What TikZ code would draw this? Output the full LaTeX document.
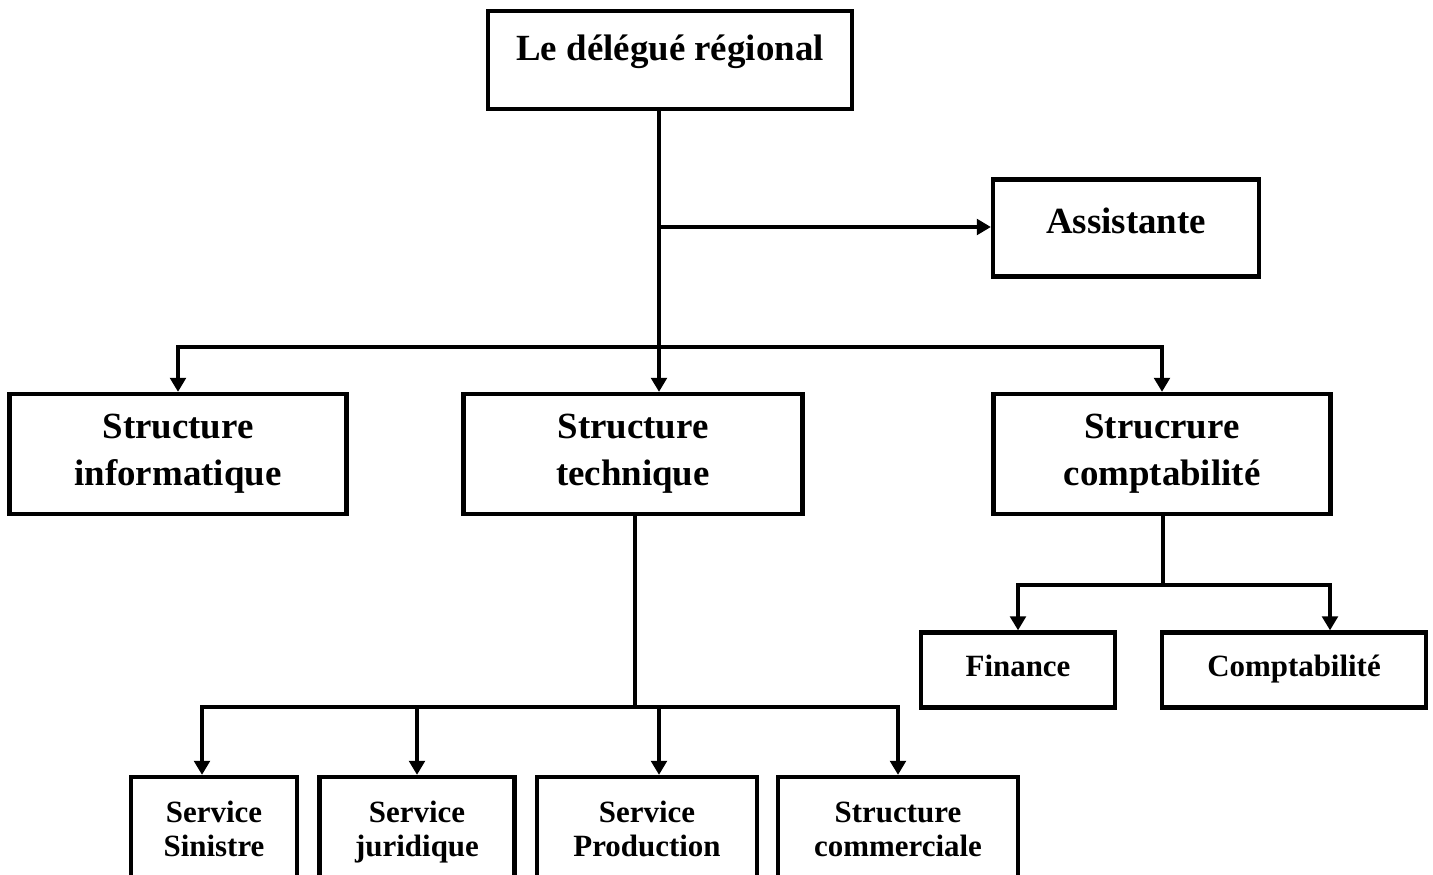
\documentclass[tikz,border=0pt]{standalone}
\usepackage{fontspec}
\setmainfont{Liberation Serif}
\usetikzlibrary{arrows.meta}

\tikzstyle{unit} = [rectangle, draw=black, line width=2.5pt, align=center, inner sep=0pt, font=\bfseries\fontsize{21}{26.6}\selectfont]
\tikzstyle{service} = [unit, font=\bfseries\fontsize{17.6}{19.8}\selectfont]
\tikzstyle{bureau} = [service, text height=31.8pt, text depth=0pt]
\tikzstyle{link} = [line width=1.8pt]
\tikzstyle{arrow} = [link, -{Triangle[length=8pt,width=9pt]}]

\begin{document}
\begin{tikzpicture}[x=0.02cm, y=-0.02cm]
\useasboundingbox (0,0) rectangle (1433,875);
\clip (0,0) rectangle (1433,875);

% Direction
\node (del) [unit, minimum width=7.28cm, minimum height=1.96cm, text height=14.7pt, text depth=13.6pt] at (670,60) {Le délégué régional};
\node (ast) [unit, minimum width=5.32cm, minimum height=1.94cm, text height=14.2pt, text depth=7.4pt] at (1126,228) {Assistante};

% Structures
\node (inf) [unit, minimum width=6.74cm, minimum height=2.4cm] at (178,454) {Structure\\informatique};
\node (tec) [unit, minimum width=6.78cm, minimum height=2.4cm] at (633,454) {Structure\\technique};
\node (cpt) [unit, minimum width=6.74cm, minimum height=2.4cm] at (1162,454) {Strucrure\\comptabilité};

% Comptabilite
\node (fin) [service, minimum width=3.88cm, minimum height=1.5cm, text height=11.9pt, text depth=4.4pt] at (1018,670) {Finance};
\node (cpb) [service, minimum width=5.28cm, minimum height=1.5cm, text height=11.9pt, text depth=4.4pt] at (1294,670) {Comptabilité};

% Services techniques
\node (sin) [bureau, minimum width=3.32cm, minimum height=2.08cm] at (214,829) {Service\\Sinistre};
\node (jur) [bureau, minimum width=3.9cm, minimum height=2.08cm] at (417,829) {Service\\juridique};
\node (pro) [bureau, minimum width=4.4cm, minimum height=2.08cm] at (647,829) {Service\\Production};
\node (com) [bureau, minimum width=4.8cm, minimum height=2.08cm] at (898,829) {Structure\\commerciale};

% Liaisons
\coordinate (tap) at (659,227);
\coordinate (hub) at (659,347);
\draw [link] (del.south -| hub) -- (hub);
\draw [arrow] (tap) -- (tap -| ast.west);
\draw [arrow] (hub) -| (inf.north);
\draw [arrow] (hub) -- (hub |- tec.north);
\draw [arrow] (hub) -| (cpt.north);

\coordinate (thub) at (635,707);
\draw [link] (tec.south -| thub) -- (thub);
\draw [arrow] (thub) -| ([xshift=-0.24cm]sin.north);
\draw [arrow] (thub) -| (jur.north);
\draw [arrow] (thub) -| ([xshift=0.24cm]pro.north);
\draw [arrow] (thub) -| (com.north);

\coordinate (chub) at (1163,585);
\draw [link] (cpt.south -| chub) -- (chub);
\draw [arrow] (chub) -| (fin.north);
\draw [arrow] (chub) -| ([xshift=0.72cm]cpb.north);
\end{tikzpicture}
\end{document}
